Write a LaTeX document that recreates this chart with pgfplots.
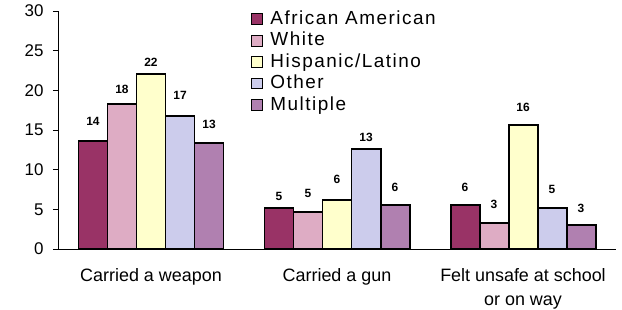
\documentclass[border=0pt]{standalone}
\usepackage{pgfplots}
\usepackage{pgfplotstable}
\pgfplotsset{compat=1.18}
\usepackage{fontspec}
\setmainfont{Liberation Sans}
\newfontfamily\legfont[LetterSpace=8]{Liberation Sans}
\definecolor{cAA}{RGB}{153,51,102}
\definecolor{cW}{RGB}{222,172,196}
\definecolor{cH}{RGB}{255,255,204}
\definecolor{cO}{RGB}{204,204,236}
\definecolor{cM}{RGB}{176,128,176}
\pgfplotstableread{
x y lab off
0 13.6 14 15
1 5.2 5 6
2 5.5 6 13
}\tAA
\pgfplotstableread{
x y lab off
0 18.3 18 9
1 4.7 5 13
2 3.3 3 13
}\tW
\pgfplotstableread{
x y lab off
0 22.1 22 6
1 6.2 6 15
2 15.6 16 13
}\tH
\pgfplotstableread{
x y lab off
0 16.8 17 15
1 12.6 13 6
2 5.2 5 13
}\tO
\pgfplotstableread{
x y lab off
0 13.3 13 14
1 5.5 6 13
2 3.0 3 12
}\tM
\begin{document}
\begin{tikzpicture}
\useasboundingbox (-58bp,-61bp) rectangle (564bp,249bp);
\begin{axis}[
  at={(0,0)}, anchor=south west,
  width=558bp, height=238bp, scale only axis,
  xmin=-0.5, xmax=2.5, ymin=0, ymax=30,
  axis x line=bottom, axis y line=left,
  axis line style={-, line width=0.8pt, black},
  ybar=0pt, bar width=29bp,
  clip=false,
  ytick={0,5,...,30},
  ytick align=outside, major tick length=5bp,
  tick style={black, line width=0.8pt},
  yticklabel style={font=\fontsize{17}{19}\selectfont, xshift=-6bp},
  /pgf/number format/assume math mode=true,
  xtick={0,1,2},
  xticklabels={Carried a weapon, Carried a gun, {Felt unsafe at school\\or on way}},
  xticklabel style={font=\fontsize{18}{24}\selectfont, align=center, yshift=-11bp},
  x tick style={draw=none},
  extra x ticks={-0.5,0.5,1.5,2.5},
  extra x tick labels={},
  extra x tick style={xtick align=outside, major tick length=7bp, tick style={draw=black, line width=0.8pt}},
  point meta=explicit symbolic,
  nodes near coords,
  visualization depends on={\thisrow{off} \as \myoff},
  nodes near coords style={font=\fontsize{12}{13}\selectfont\bfseries, anchor=south, inner sep=0pt, yshift=\myoff, text=black},
  legend style={at={(rel axis cs:0.341,1.07)}, yshift=-12bp, anchor=north west, draw=none, fill=none,
    font=\fontsize{19}{21}\selectfont\legfont, row sep=0pt,
    nodes={inner sep=1pt, text height=15pt, text depth=4.5pt, anchor=west},
    /tikz/every odd column/.append style={column sep=6bp}},
  legend cell align=left,
  legend image code/.code={\draw[#1,line width=1pt] (0pt,-5.5pt) rectangle (11pt,5.5pt);},
]
\addplot[fill=cAA, draw=black, line width=2pt] table[x=x,y=y,meta=lab] {\tAA};
\addplot[fill=cW, draw=black, line width=2pt] table[x=x,y=y,meta=lab] {\tW};
\addplot[fill=cH, draw=black, line width=2pt] table[x=x,y=y,meta=lab] {\tH};
\addplot[fill=cO, draw=black, line width=2pt] table[x=x,y=y,meta=lab] {\tO};
\addplot[fill=cM, draw=black, line width=2pt] table[x=x,y=y,meta=lab] {\tM};
\legend{African American, White, Hispanic/Latino, Other, Multiple}
\end{axis}
\end{tikzpicture}
\end{document}
